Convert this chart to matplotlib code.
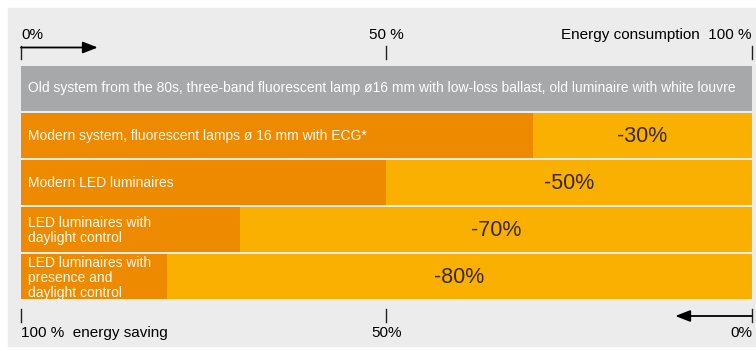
import matplotlib
matplotlib.use("Agg")

import matplotlib.pyplot as plt
from matplotlib.patches import Rectangle

plt.rcParams['font.family'] = ['Liberation Sans', 'DejaVu Sans']

# data
base_label = "Old system from the 80s, three-band fluorescent lamp \u00f816 mm with low-loss ballast, old luminaire with white louvre"
systems = [
    "Modern system, fluorescent lamps \u00f8 16 mm with ECG*",
    "Modern LED luminaires",
    "LED luminaires with\ndaylight control",
    "LED luminaires with\npresence and\ndaylight control",
]
consumption = [70, 50, 30, 20]
savings = ["-30%", "-50%", "-70%", "-80%"]

gray = "#a7a8aa"
dark_orange = "#ee8a00"
light_orange = "#f9b000"
panel = "#ececec"

W, H = 756, 351
fig = plt.figure(figsize=(W / 100, H / 100), dpi=100)
fig.patch.set_facecolor("white")

# full-figure axes: x in percent, y in pixel rows from the top
x0, x1 = 21, 752
scale = (x1 - x0) / 100
ax = fig.add_axes([0, 0, 1, 1])
ax.set_xlim(-x0 / scale, 100 + (W - x1) / scale)
ax.set_ylim(H, 0)
ax.axis("off")

px = lambda p: (p - x0) / scale  # pixel -> percent

ax.add_patch(Rectangle((px(8), 8), px(W) - px(8), 338, color=panel, zorder=0))

pitch = 47.2
h = 45
y_top = 65.5
pad = 7 / scale

# base bar
ax.barh(y_top + h / 2, 100, height=h, left=0, color=gray, zorder=2)
ax.text(pad, y_top + h / 2, base_label, color="white", fontsize=10,
        va="center", ha="left", zorder=3)

for i, (name, c, s) in enumerate(zip(systems, consumption, savings)):
    yc = y_top + (i + 1) * pitch + h / 2
    ax.barh(yc, c, height=h, left=0, color=dark_orange, zorder=2)
    ax.barh(yc, 100 - c, height=h, left=c, color=light_orange, zorder=2)
    ax.text(pad, yc + 1, name, color="#fff8ee", fontsize=10, va="center",
            ha="left", linespacing=1.08, zorder=3)
    ax.text(c + (100 - c) / 2, yc + 1, s, color="#3a2a10", fontsize=15.5,
            va="center", ha="center", zorder=3)

# top scale
for x in (0, 50, 100):
    ax.plot([x, x], [46, 59], color="#222222", lw=1, zorder=3)
ax.annotate("", xy=(10.5, 47.5), xytext=(0, 47.5),
            arrowprops=dict(arrowstyle="-|>,head_length=0.9,head_width=0.35",
                            color="black", lw=1.3, shrinkA=0, shrinkB=0))
ax.text(0, 35, "0%", fontsize=11, ha="left", va="center")
ax.text(50, 35, "50 %", fontsize=11, ha="center", va="center")
ax.text(100, 35, "Energy consumption  100 %", fontsize=11, ha="right", va="center")

# bottom scale
for x in (0, 50, 100):
    ax.plot([x, x], [309, 322], color="#222222", lw=1, zorder=3)
ax.annotate("", xy=(89.5, 316), xytext=(100, 316),
            arrowprops=dict(arrowstyle="-|>,head_length=0.9,head_width=0.35",
                            color="black", lw=1.3, shrinkA=0, shrinkB=0))
ax.text(0, 333, "100 %  energy saving", fontsize=11, ha="left", va="center")
ax.text(50, 333, "50%", fontsize=11, ha="center", va="center")
ax.text(100, 333, "0%", fontsize=11, ha="right", va="center")

fig.savefig("out.png", dpi=100, facecolor=fig.get_facecolor())
